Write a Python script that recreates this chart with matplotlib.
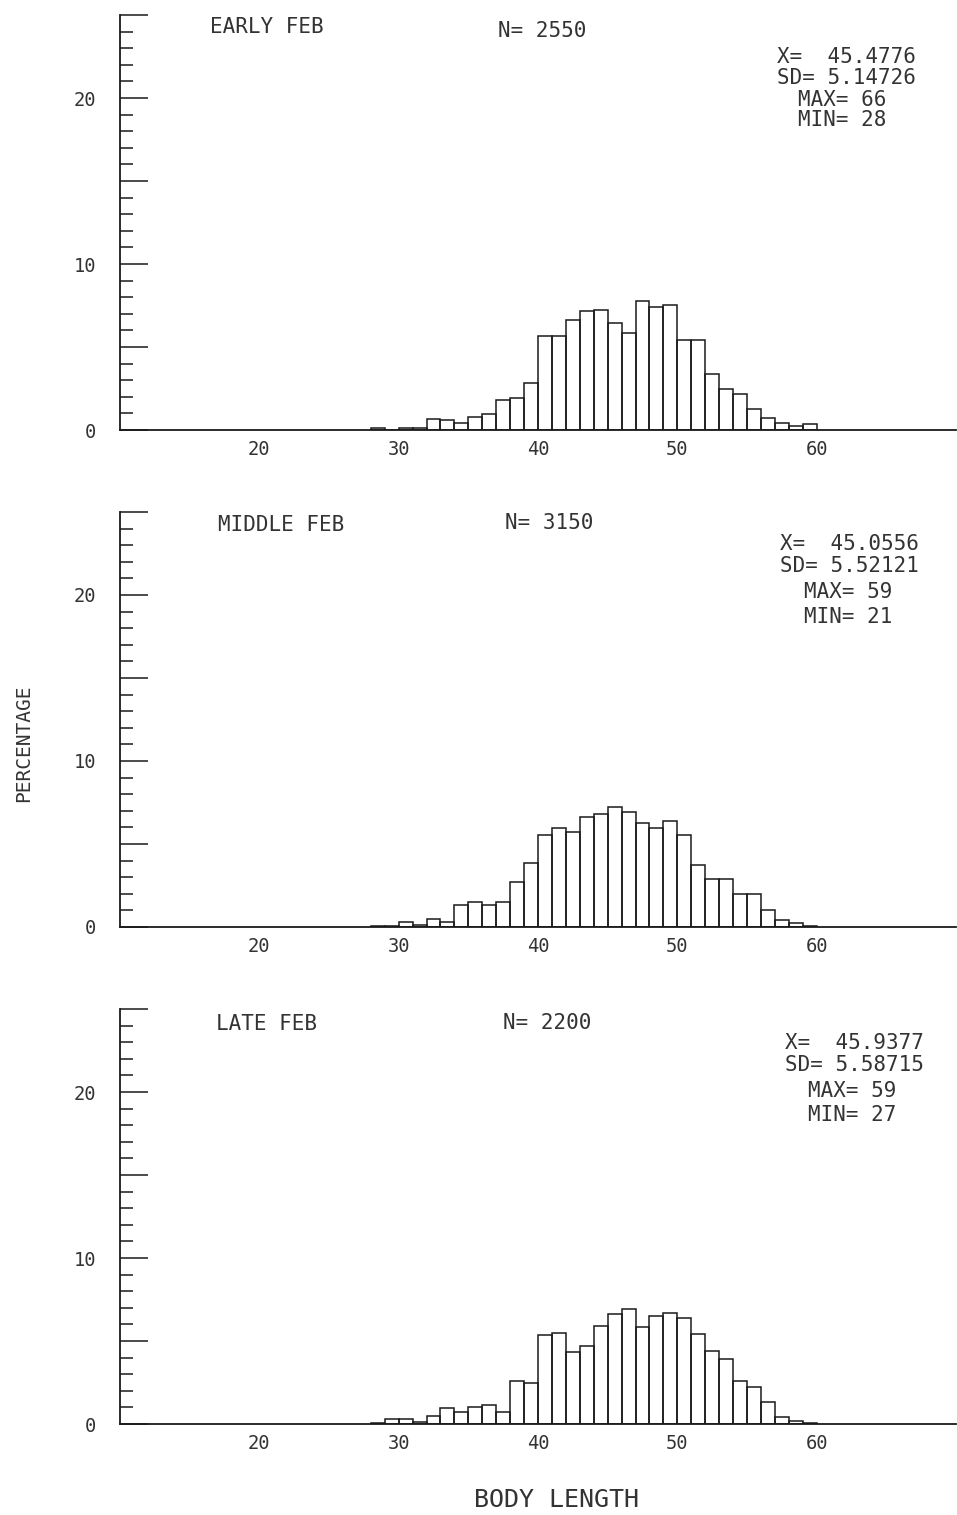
import numpy as np
import matplotlib
matplotlib.use("Agg")
import matplotlib.pyplot as plt
from matplotlib.ticker import MultipleLocator

plt.rcParams['font.family'] = ['DejaVu Sans Mono', 'DejaVu Sans']

# body length classes (left edge of each 1-unit bin) and percentage per class
early_bins = list(range(28, 60))
early_pct = [0.1, 0.0, 0.15, 0.15, 0.65, 0.6, 0.45, 0.8, 0.95, 1.8, 1.95, 2.85,
             5.65, 5.65, 6.6, 7.15, 7.25, 6.45, 5.85, 7.75, 7.4, 7.55,
             5.4, 5.4, 3.35, 2.45, 2.15, 1.25, 0.7, 0.4, 0.25, 0.35]

middle_bins = list(range(28, 60))
middle_pct = [0.05, 0.05, 0.3, 0.15, 0.5, 0.3, 1.3, 1.5, 1.3, 1.5, 2.7, 3.85,
              5.55, 5.95, 5.75, 6.6, 6.8, 7.25, 6.95, 6.25, 5.95, 6.4,
              5.55, 3.75, 2.9, 2.9, 2.0, 2.0, 1.0, 0.4, 0.25, 0.05]

late_bins = list(range(28, 60))
late_pct = [0.08, 0.3, 0.3, 0.1, 0.5, 0.95, 0.75, 1.0, 1.15, 0.75, 2.6, 2.5,
            5.35, 5.5, 4.35, 4.7, 5.9, 6.65, 6.9, 5.85, 6.5, 6.7,
            6.4, 5.45, 4.4, 3.9, 2.6, 2.2, 1.35, 0.45, 0.2, 0.05]

titles = ["EARLY FEB", "MIDDLE FEB", "LATE FEB"]
n_labels = ["N= 2550", "N= 3150", "N= 2200"]
means = ["45.4776", "45.0556", "45.9377"]
sds = ["5.14726", "5.52121", "5.58715"]
maxs = ["66", "59", "59"]
mins = ["28", "21", "27"]

bins_all = [early_bins, middle_bins, late_bins]
pct_all = [early_pct, middle_pct, late_pct]

x_ticks = [20, 30, 40, 50, 60]
y_labels = {0: "0", 10: "10", 20: "20"}

W, H = 957, 1515
fig = plt.figure(figsize=(W / 100, H / 100), dpi=100)

ink = "#1a1a1a"
txt = "#333333"

# panel geometry in pixels: (y of zero line, y of top)
panel_px = [(430, 15), (927, 512), (1424, 1009)]
# stats text: pixel offsets below top, x start for first two / last two lines
stat_dy = [[42, 63, 85, 105], [32, 54, 80, 105], [34, 56, 82, 106]]
stat_x = [(777, 798), (780, 804), (785, 808)]
title_x = [210, 218, 216]
title_dy = [12, 13, 15]
n_x = [498, 505, 503]
n_dy = [16, 11, 14]

x0, x1 = 120, 956
for i in range(3):
    yb, yt = panel_px[i]
    ax = fig.add_axes([x0 / W, 1 - yb / H, (x1 - x0) / W, (yb - yt) / H])
    ax.bar(bins_all[i], pct_all[i], width=1.0, align='edge', fill=False,
           edgecolor=ink, linewidth=1.1)
    ax.set_xlim(10, 70)
    ax.set_ylim(0, 25)
    for s in ['top', 'right']:
        ax.spines[s].set_visible(False)
    for s in ['left', 'bottom']:
        ax.spines[s].set_linewidth(1.3)
        ax.spines[s].set_color(ink)

    ax.yaxis.set_major_locator(MultipleLocator(5))
    ax.yaxis.set_minor_locator(MultipleLocator(1))
    ax.set_yticklabels([y_labels.get(int(round(v)), "") for v in ax.get_yticks()])
    ax.tick_params(axis='y', which='major', direction='in', length=20, width=1.1,
                   color=ink, pad=17, labelsize=13.5, labelcolor=txt)
    ax.tick_params(axis='y', which='minor', direction='in', length=9.5, width=1.1,
                   color=ink)
    ax.set_xticks(x_ticks)
    ax.set_xticklabels([str(v) for v in x_ticks])
    ax.tick_params(axis='x', length=0, pad=7, labelsize=13.5, labelcolor=txt)

    h = yb - yt
    def fy(dy):
        return 1 - dy / h
    def fx(px):
        return (px - x0) / (x1 - x0)

    ax.text(fx(title_x[i]), fy(title_dy[i]), titles[i], transform=ax.transAxes,
            fontsize=15, color=txt, ha='left', va='center')
    ax.text(fx(n_x[i]), fy(n_dy[i]), n_labels[i], transform=ax.transAxes,
            fontsize=15, color=txt, ha='left', va='center')
    lines = ["X=  " + means[i], "SD= " + sds[i], "MAX= " + maxs[i], "MIN= " + mins[i]]
    for k, line in enumerate(lines):
        px = stat_x[i][0] if k < 2 else stat_x[i][1]
        ax.text(fx(px), fy(stat_dy[i][k]), line, transform=ax.transAxes,
                fontsize=15, color=txt, ha='left', va='center')

fig.text(24 / W, 1 - 743 / H, "PERCENTAGE", rotation=90, ha='center', va='center',
         fontsize=14, color=txt)
fig.text(557 / W, 1 - 1500 / H, "BODY LENGTH", ha='center', va='center',
         fontsize=18, color=txt)

fig.savefig("out.png", dpi=100)
